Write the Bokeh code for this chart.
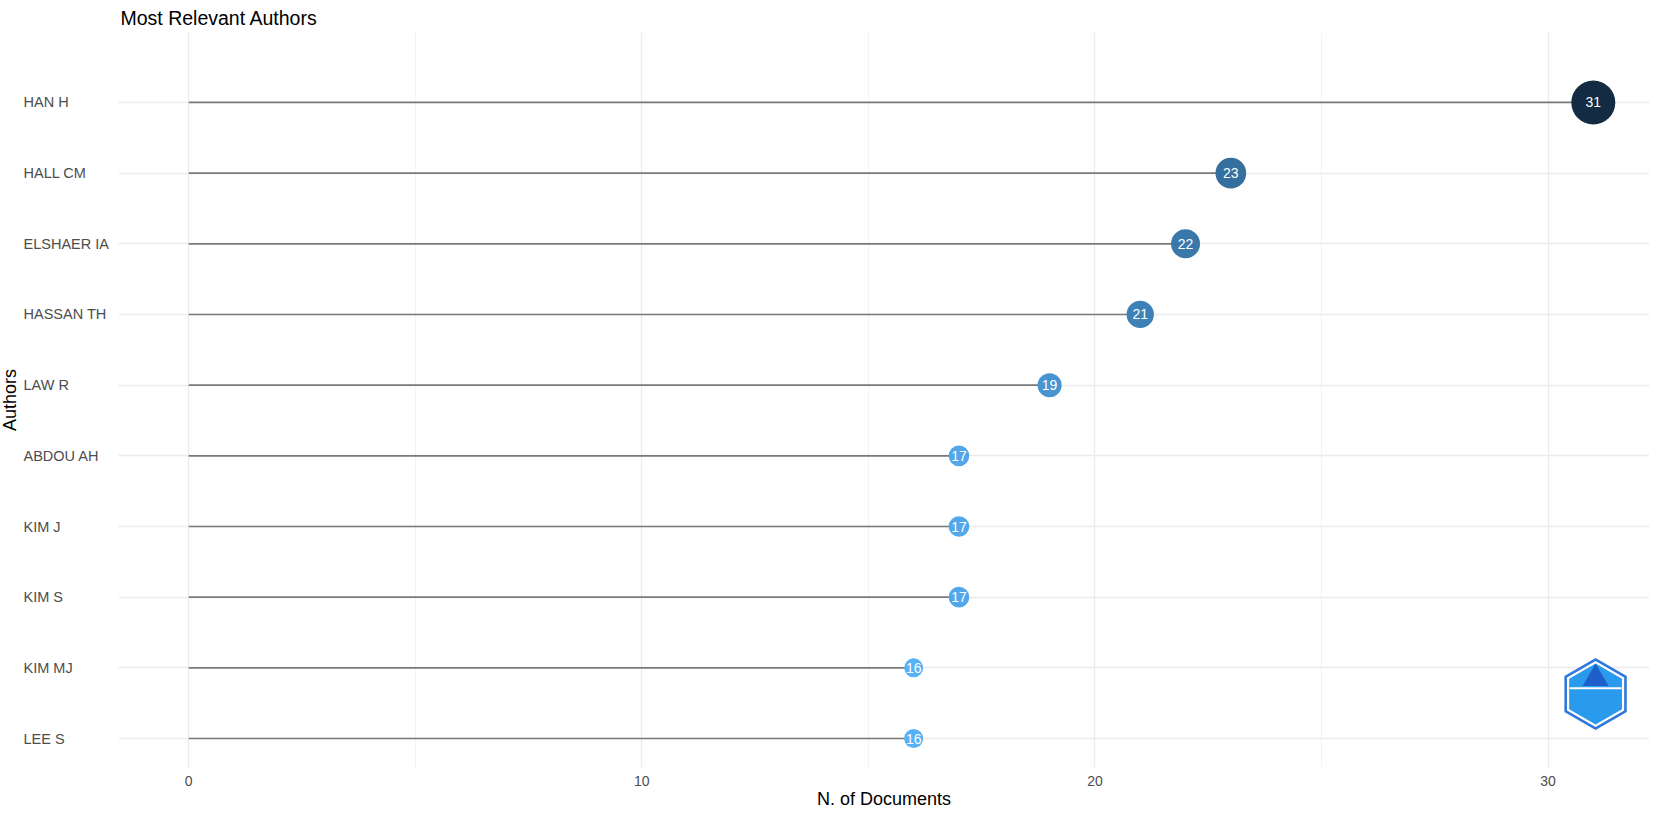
import math
from bokeh.plotting import figure
from bokeh.layouts import row
from bokeh.models import ColumnDataSource, Range1d, FixedTicker
from bokeh.core.properties import value
from bokeh.embed import file_html
from bokeh.resources import INLINE

# ---------------- data ----------------
authors = ["HAN H", "HALL CM", "ELSHAER IA", "HASSAN TH", "LAW R",
           "ABDOU AH", "KIM J", "KIM S", "KIM MJ", "LEE S"]
docs = [31, 23, 22, 21, 19, 17, 17, 17, 16, 16]
x_ticks = [0, 10, 20, 30]
x_minor_ticks = [5, 15, 25]

title_text = "Most Relevant Authors"
x_title = "N. of Documents"
y_title = "Authors"

# ---------------- styles ----------------
FONT = "Liberation Sans"
LOW_COL = "#132B43"   # colour for the largest value (ggplot low on -Freq)
HIGH_COL = "#56B1F7"  # colour for the smallest value
D_MIN, D_MAX = 19, 44  # point diameters (scale_radius)
LEFT_W = 118
FRAME_W = 1531
FRAME_H = 735
TOP = 32

n = len(authors)
ypos = list(range(n, 0, -1))
vmax, vmin = max(docs), min(docs)
x_start, x_end = -0.05 * vmax, 1.04 * vmax
y_start, y_end = 0.59, n + 0.99


# ---- Lab interpolation of colours (like ggplot's gradient) ----
def _hex2rgb(h):
    h = h.lstrip("#")
    return [int(h[i:i + 2], 16) for i in (0, 2, 4)]


def _to_lab(h):
    def lin(c):
        c /= 255.0
        return c / 12.92 if c <= 0.04045 else ((c + 0.055) / 1.055) ** 2.4
    r, g, b = [lin(c) for c in _hex2rgb(h)]
    X = (0.4124564 * r + 0.3575761 * g + 0.1804375 * b) / 0.95047
    Y = (0.2126729 * r + 0.7151522 * g + 0.0721750 * b)
    Z = (0.0193339 * r + 0.1191920 * g + 0.9503041 * b) / 1.08883

    def f(t):
        return t ** (1 / 3) if t > 0.008856 else 7.787 * t + 16 / 116
    fx, fy, fz = f(X), f(Y), f(Z)
    return (116 * fy - 16, 500 * (fx - fy), 200 * (fy - fz))


def _from_lab(L, a, b):
    fy = (L + 16) / 116
    fx = fy + a / 500
    fz = fy - b / 200

    def finv(t):
        return t ** 3 if t ** 3 > 0.008856 else (t - 16 / 116) / 7.787
    X, Y, Z = finv(fx) * 0.95047, finv(fy), finv(fz) * 1.08883
    r = 3.2404542 * X - 1.5371385 * Y - 0.4985314 * Z
    g = -0.9692660 * X + 1.8760108 * Y + 0.0415560 * Z
    bb = 0.0556434 * X - 0.2040259 * Y + 1.0572252 * Z

    def gam(c):
        c = max(0.0, min(1.0, c))
        return 12.92 * c if c <= 0.0031308 else 1.055 * c ** (1 / 2.4) - 0.055
    return "#%02x%02x%02x" % tuple(int(round(gam(c) * 255)) for c in (r, g, bb))


lab_lo, lab_hi = _to_lab(HIGH_COL), _to_lab(LOW_COL)
colors, sizes = [], []
for v in docs:
    t = (v - vmin) / (vmax - vmin)
    colors.append(_from_lab(*[lo + (hi - lo) * t for lo, hi in zip(lab_lo, lab_hi)]))
    sizes.append(D_MIN + t * (D_MAX - D_MIN))

src = ColumnDataSource(dict(
    author=authors, docs=docs, y=ypos, color=colors, size=sizes,
    lbl=[str(v) for v in docs],
))

y_range = Range1d(y_start, y_end)

# ---------------- left panel: category labels + axis title ----------------
pl = figure(
    frame_width=LEFT_W, frame_height=FRAME_H,
    x_range=Range1d(0, 1), y_range=y_range,
    output_backend="svg", toolbar_location=None,
    min_border_left=0, min_border_right=0, min_border_top=TOP, min_border_bottom=0,
)
pl.outline_line_color = None
pl.xaxis.visible = False
pl.yaxis.visible = False
pl.xgrid.visible = False
pl.ygrid.visible = False
pl.text(x=0, y="y", text="author", source=src, x_offset=23,
        text_align="left", text_baseline="middle",
        text_font=value(FONT), text_font_size="14.5px", text_color="#4d4d4d")
pl.text(x=[0], y=[(y_start + y_end) / 2], text=[y_title], x_offset=9,
        angle=math.pi / 2, text_align="center", text_baseline="middle",
        text_font=value(FONT), text_font_size="18px", text_color="black")

# ---------------- main panel ----------------
p = figure(
    frame_width=FRAME_W, frame_height=FRAME_H,
    x_range=Range1d(x_start, x_end), y_range=y_range,
    output_backend="svg", toolbar_location=None,
    min_border_left=0, min_border_right=0, min_border_top=TOP, min_border_bottom=0,
)
p.outline_line_color = None

# title
p.title.text = title_text
p.title.text_font = FONT
p.title.text_font_size = "19.5px"
p.title.text_font_style = "normal"
p.title.text_color = "black"
p.title.align = "left"
p.title.offset = 2
p.title.standoff = 8

# axes
p.yaxis.visible = False
xt = FixedTicker(ticks=x_ticks, minor_ticks=x_minor_ticks)
p.xaxis.ticker = xt
p.xaxis.axis_line_color = None
p.xaxis.major_tick_line_color = None
p.xaxis.minor_tick_line_color = None
p.xaxis.major_tick_out = 0
p.xaxis.major_tick_in = 0
p.xaxis.major_label_standoff = 4
p.xaxis.major_label_text_font = FONT
p.xaxis.major_label_text_font_size = "14px"
p.xaxis.major_label_text_color = "#4d4d4d"
p.xaxis.axis_label = x_title
p.xaxis.axis_label_text_font = FONT
p.xaxis.axis_label_text_font_size = "18px"
p.xaxis.axis_label_text_font_style = "normal"
p.xaxis.axis_label_text_color = "black"
p.xaxis.axis_label_standoff = 0

# grids
p.xgrid.ticker = xt
p.xgrid.grid_line_color = "#ebebeb"
p.xgrid.grid_line_width = 1.3
p.xgrid.minor_grid_line_color = "#f3f3f3"
p.xgrid.minor_grid_line_width = 1.0
p.ygrid.ticker = FixedTicker(ticks=ypos)
p.ygrid.grid_line_color = "#ebebeb"
p.ygrid.grid_line_width = 1.3

# lollipops
p.segment(x0=0, y0="y", x1="docs", y1="y", source=src,
          line_color="#7a7a7a", line_width=1.7)
p.scatter("docs", "y", size="size", fill_color="color", line_color=None, source=src)
p.text("docs", "y", text="lbl", source=src, text_color="white",
       text_align="center", text_baseline="middle",
       text_font=value(FONT), text_font_size="14px")

# decorative watermark logo (hexagon) in the lower-right corner
logo_x, logo_y = x_end - 1.19, y_start + 1.04
p.scatter([logo_x], [logo_y], marker="hex", size=72, angle=math.pi / 6,
          fill_color="#2f78dc", line_color=None)
p.scatter([logo_x], [logo_y], marker="hex", size=66, angle=math.pi / 6,
          fill_color="white", line_color=None)
p.scatter([logo_x], [logo_y], marker="hex", size=61, angle=math.pi / 6,
          fill_color="#2a9bec", line_color=None)
p.scatter([logo_x], [logo_y + 0.22], marker="triangle", size=26,
          fill_color="#1f5fca", line_color=None)
p.scatter([logo_x], [logo_y + 0.08], marker="dash", size=52,
          line_color="white", line_width=2)

layout = row(pl, p, spacing=0)
open("out.html", "w").write(file_html(layout, INLINE))
